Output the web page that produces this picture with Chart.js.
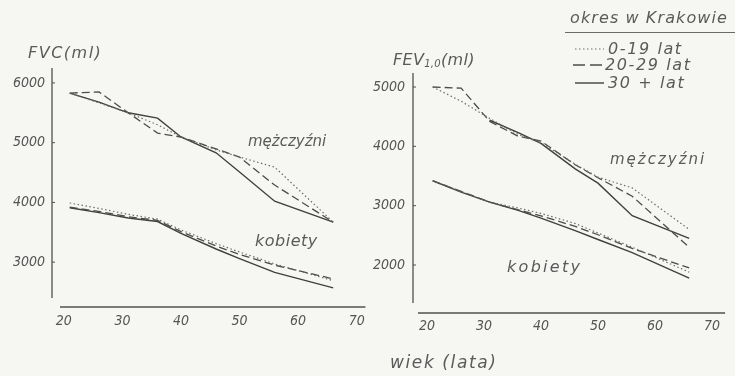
<!DOCTYPE html>
<html>
<head>
<meta charset="utf-8">
<script src="https://cdn.jsdelivr.net/npm/chart.js@4/dist/chart.umd.min.js"></script>
<style>
  html, body { margin: 0; padding: 0; background: #f6f6f3; }
  body { width: 735px; height: 376px; position: relative; overflow: hidden;
         font-family: "DejaVu Sans", sans-serif; font-style: italic; color: #5a5a5a; }
  .box { position: absolute; top: 0; height: 376px; }
  .lbl { position: absolute; white-space: nowrap; line-height: 1; }
  sub { font-size: 10px; vertical-align: -2px; }
</style>
</head>
<body>
<div class="box" style="left:0;width:380px"><canvas id="fvc" width="380" height="376"></canvas></div>
<div class="box" style="left:366px;width:369px"><canvas id="fev" width="369" height="376"></canvas></div>

<div class="lbl" style="left:28px;top:45px;font-size:16px;letter-spacing:1.5px">FVC(ml)</div>
<div class="lbl" style="left:393px;top:52px;font-size:16px;letter-spacing:0.3px">FEV<sub>1,0</sub>(ml)</div>

<div class="lbl" style="left:248px;top:134px;font-size:15px;letter-spacing:0px">mężczyźni</div>
<div class="lbl" style="left:610px;top:152px;font-size:15px;letter-spacing:2px">mężczyźni</div>
<div class="lbl" style="left:255px;top:233px;font-size:16px;letter-spacing:0.5px">kobiety</div>
<div class="lbl" style="left:507px;top:259px;font-size:16px;letter-spacing:2.3px">kobiety</div>
<div class="lbl" style="left:390px;top:354px;font-size:17px;letter-spacing:1.6px">wiek (lata)</div>

<div id="legend"></div>

<script>
// Age at which each group mean is plotted (years)
const ages = [21, 26, 31, 36, 40, 46, 50, 56, 66];
const xTicks = [20, 30, 40, 50, 60, 70];
const fvcTicks = [3000, 4000, 5000, 6000];
const fevTicks = [2000, 3000, 4000, 5000];

// Residence period in Kraków
const periods = ['0-19 lat', '20-29 lat', '30 + lat'];

// FVC (ml)
const fvcMen0_19   = [5830, 5665, 5500, 5300, 5095, 4880, 4760, 4590, 3670];
const fvcMen20_29  = [5830, 5850, 5500, 5160, 5095, 4895, 4760, 4290, 3670];
const fvcMen30     = [5830, 5680, 5500, 5410, 5095, 4830, 4510, 4020, 3670];
const fvcWomen0_19  = [3990, 3900, 3800, 3720, 3540, 3310, 3170, 2970, 2690];
const fvcWomen20_29 = [3920, 3850, 3760, 3700, 3510, 3270, 3130, 2950, 2720];
const fvcWomen30    = [3910, 3830, 3740, 3680, 3480, 3220, 3060, 2830, 2570];

// FEV1,0 (ml)
const fevMen0_19   = [5000, 4760, 4470, 4200, 4060, 3700, 3480, 3300, 2600];
const fevMen20_29  = [5000, 4980, 4420, 4170, 4090, 3690, 3470, 3160, 2300];
const fevMen30     = [null, null, 4440, 4230, 4050, 3620, 3380, 2830, 2450];
const fevWomen0_19  = [3420, 3240, 3060, 2960, 2870, 2700, 2540, 2300, 1880];
const fevWomen20_29 = [3420, 3240, 3060, 2930, 2830, 2650, 2510, 2280, 1950];
const fevWomen30    = [3420, 3230, 3060, 2920, 2790, 2580, 2430, 2210, 1780];

// Line look per residence period
const lineStyles = [
  { color: '#6c6c6c', width: 1.2, dash: [1.5, 2.5] },
  { color: '#4c4c4c', width: 1.3, dash: [8, 4] },
  { color: '#404040', width: 1.4, dash: [] }
];

const inkText = '#555555';
const tickFont = { family: '"DejaVu Sans Condensed", "DejaVu Sans", sans-serif', style: 'italic', size: 14 };

function series(vals, k) {
  const s = lineStyles[k];
  return {
    label: periods[k],
    data: ages.map((a, i) => ({ x: a, y: vals[i] })),
    borderColor: s.color, borderWidth: s.width, borderDash: s.dash,
    pointRadius: 0, tension: 0, fill: false, spanGaps: false
  };
}

// Detached axis lines, as in hand-drawn figures
const axisLines = {
  id: 'axisLines',
  afterDraw(chart, args, o) {
    const { ctx, chartArea: a, scales } = chart;
    ctx.save();
    ctx.strokeStyle = '#505050';
    ctx.lineWidth = 1.3;
    const yx = a.left - o.yGap;
    ctx.beginPath(); ctx.moveTo(yx, a.top); ctx.lineTo(yx, a.bottom); ctx.stroke();
    const xy = a.bottom + o.xGap;
    ctx.beginPath(); ctx.moveTo(a.left + o.xStart, xy); ctx.lineTo(a.right, xy); ctx.stroke();
    ctx.lineWidth = 1;
    scales.y.ticks.forEach(t => {
      const py = scales.y.getPixelForValue(t.value);
      ctx.beginPath(); ctx.moveTo(yx, py); ctx.lineTo(yx + 3, py); ctx.stroke();
    });
    ctx.restore();
  }
};

function makeChart(id, sets, tickVals, c) {
  return new Chart(document.getElementById(id), {
    type: 'line',
    data: { datasets: sets },
    options: {
      responsive: false,
      animation: false,
      layout: { padding: { top: c.top, right: c.right, left: 0, bottom: 0 } },
      plugins: {
        legend: { display: false },
        tooltip: { enabled: false },
        axisLines: { yGap: c.yGap, xGap: c.xGap, xStart: c.xStart }
      },
      scales: {
        x: {
          type: 'linear', min: c.xMin, max: c.xMax,
          grid: { display: false, drawTicks: false },
          border: { display: false },
          ticks: { padding: c.xPad, font: tickFont, color: inkText, callback: v => String(v) },
          afterBuildTicks: s => { s.ticks = xTicks.map(v => ({ value: v })); },
          afterFit: s => { s.height = c.xH; }
        },
        y: {
          type: 'linear', min: c.yMin, max: c.yMax,
          grid: { display: false, drawTicks: false },
          border: { display: false },
          ticks: { padding: c.yPad, font: tickFont, color: inkText, callback: v => String(v) },
          afterBuildTicks: s => { s.ticks = tickVals.map(v => ({ value: v })); },
          afterFit: s => { s.width = c.yW; }
        }
      }
    },
    plugins: [axisLines]
  });
}

makeChart('fvc', [
  series(fvcMen0_19, 0), series(fvcMen20_29, 1), series(fvcMen30, 2),
  series(fvcWomen0_19, 0), series(fvcWomen20_29, 1), series(fvcWomen30, 2)
], fvcTicks, {
  top: 68, right: 12, yW: 58, xH: 78, xMin: 19, xMax: 71.5, yMin: 2400, yMax: 6250,
  xPad: 15, yPad: 13, yGap: 6, xGap: 9, xStart: 2
});

makeChart('fev', [
  series(fevMen0_19, 0), series(fevMen20_29, 1), series(fevMen30, 2),
  series(fevWomen0_19, 0), series(fevWomen20_29, 1), series(fevWomen30, 2)
], fevTicks, {
  top: 73, right: 0, yW: 53, xH: 73, xMin: 18.6, xMax: 72.3, yMin: 1360, yMax: 5236,
  xPad: 15, yPad: 14, yGap: 6, xGap: 10, xStart: -1
});

// Legend: residence period in Kraków
(function buildLegend() {
  const host = document.getElementById('legend');
  const head = document.createElement('div');
  head.className = 'lbl';
  head.style.cssText = 'left:570px;top:10px;font-size:16px;letter-spacing:1.1px';
  head.textContent = 'okres w Krakowie';
  host.appendChild(head);
  const rule = document.createElement('div');
  rule.style.cssText = 'position:absolute;left:565px;top:32px;width:170px;height:1px;background:#6a6a6a';
  host.appendChild(rule);
  const rowsY = [49, 65, 83];
  periods.forEach((p, k) => {
    const s = lineStyles[k];
    const svgNS = 'http://www.w3.org/2000/svg';
    const svg = document.createElementNS(svgNS, 'svg');
    svg.setAttribute('width', '32'); svg.setAttribute('height', '6');
    svg.style.cssText = 'position:absolute;left:' + (k === 1 ? 573 : 575) + 'px;top:' + (rowsY[k] - 3) + 'px';
    const ln = document.createElementNS(svgNS, 'line');
    ln.setAttribute('x1', '0'); ln.setAttribute('y1', '3');
    ln.setAttribute('x2', k === 1 ? '31' : '29'); ln.setAttribute('y2', '3');
    ln.setAttribute('stroke', s.color); ln.setAttribute('stroke-width', s.width);
    if (s.dash.length) ln.setAttribute('stroke-dasharray', k === 1 ? '12 5' : s.dash.join(' '));
    svg.appendChild(ln);
    host.appendChild(svg);
    const t = document.createElement('div');
    t.className = 'lbl';
    t.style.cssText = 'left:' + (k === 1 ? 605 : 608) + 'px;top:' + (rowsY[k] - 8) + 'px;font-size:16px;letter-spacing:1.6px';
    t.textContent = p;
    host.appendChild(t);
  });
})();
</script>
</body>
</html>
